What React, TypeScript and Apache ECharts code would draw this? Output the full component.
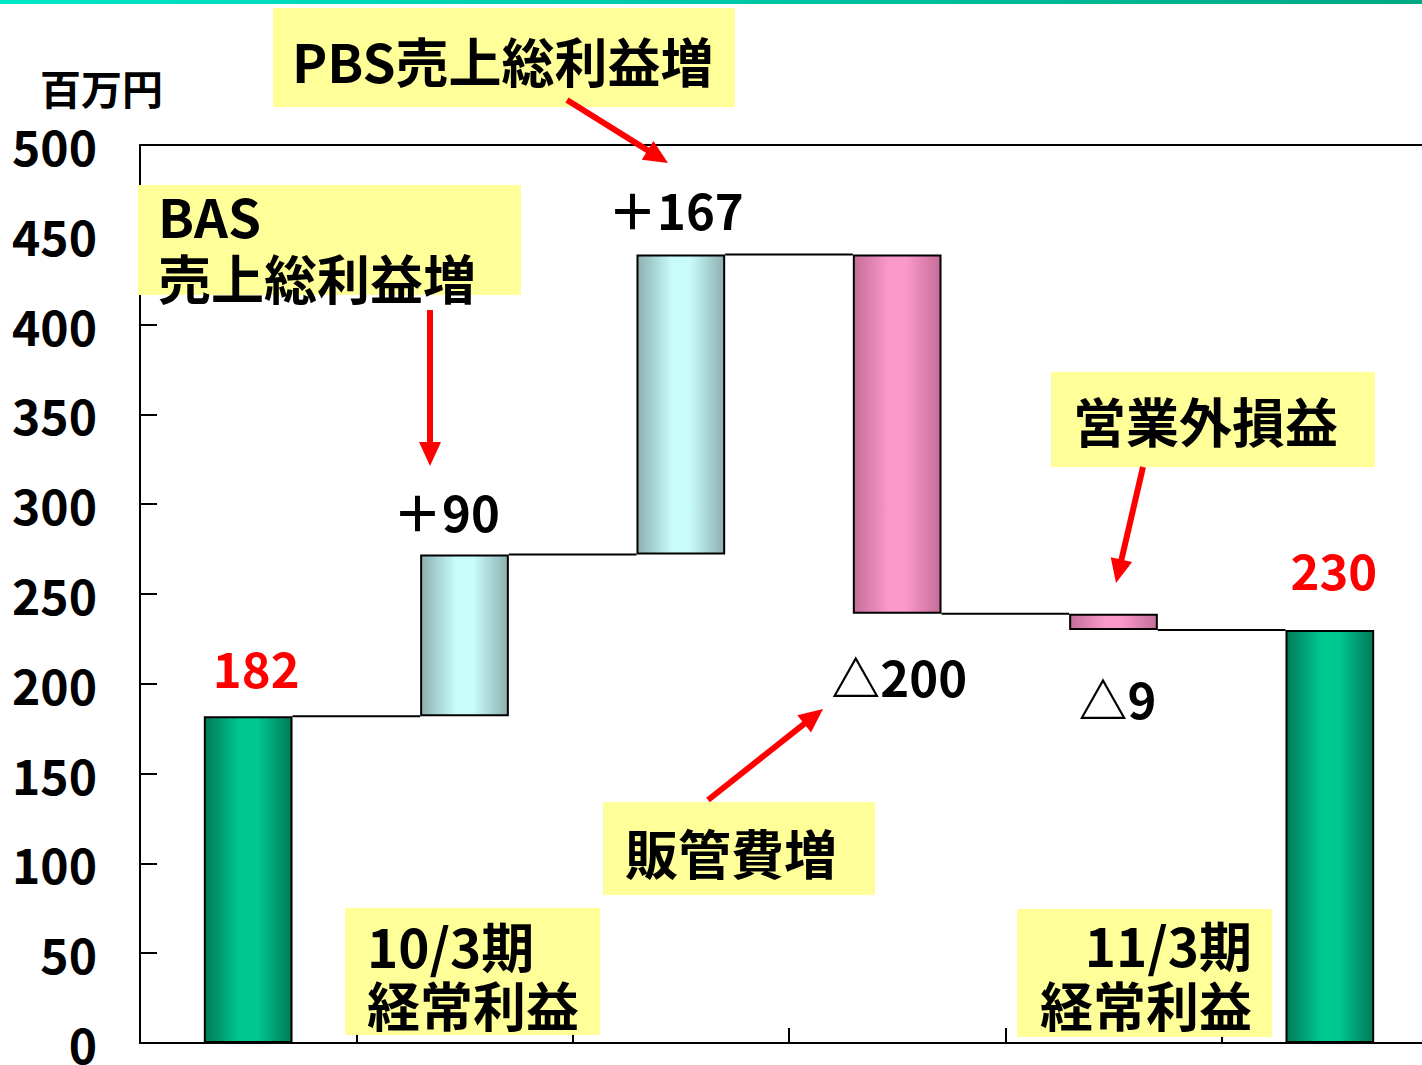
import React, { useEffect, useRef } from "react";
import * as echarts from "echarts";

const categories = ["10/3期経常利益", "BAS売上総利益増", "PBS売上総利益増", "販管費増", "営業外損益", "11/3期経常利益"];
const startValue = 182;
const deltas = [90, 167, -200, -9];
const endValue = 230;
const yTicks = { min: 0, max: 500, interval: 50 };
const unitLabel = "百万円";

// label placement (style only)
const labelDist = [25, 19, 22, 37, 43, 37];
const labelDx = [8, -18, -5, 2, 4, 4];

const FONT = "'Noto Sans CJK JP', 'Noto Sans', sans-serif";

function buildSeries() {
  const n = categories.length;
  const base: (number | string)[] = new Array(n).fill("-");
  const totals: any[] = new Array(n).fill("-");
  const inc: any[] = new Array(n).fill("-");
  const dec: any[] = new Array(n).fill("-");
  const levels: number[] = [startValue];
  base[0] = 0;
  totals[0] = { value: startValue, label: { distance: labelDist[0], offset: [labelDx[0], 0] } };
  let cur = startValue;
  deltas.forEach((d, k) => {
    const i = k + 1;
    const next = cur + d;
    base[i] = Math.min(cur, next);
    if (d >= 0) inc[i] = { value: d, label: { distance: labelDist[i], offset: [labelDx[i], 0] } };
    else dec[i] = { value: -d, label: { distance: labelDist[i], offset: [labelDx[i], 0] } };
    cur = next;
    levels.push(cur);
  });
  base[n - 1] = 0;
  totals[n - 1] = { value: endValue, label: { distance: labelDist[n - 1], offset: [labelDx[n - 1], 0] } };
  return { base, totals, inc, dec, levels };
}

const hGrad = (edge: string, mid: string) =>
  new echarts.graphic.LinearGradient(0, 0, 1, 0, [
    { offset: 0, color: edge },
    { offset: 0.4, color: mid },
    { offset: 0.6, color: mid },
    { offset: 1, color: edge },
  ]);

function arrow(x1: number, y1: number, x2: number, y2: number) {
  const dx = x2 - x1, dy = y2 - y1;
  const len = Math.sqrt(dx * dx + dy * dy);
  const ux = dx / len, uy = dy / len;
  const headL = 24, headW = 11;
  const bx = x2 - ux * headL, by = y2 - uy * headL;
  const px = -uy, py = ux;
  return [
    { type: "line", shape: { x1, y1, x2: bx + ux * 2, y2: by + uy * 2 }, style: { stroke: "#ff0000", lineWidth: 6 }, z: 20 },
    {
      type: "polygon",
      shape: { points: [[x2, y2], [bx + px * headW, by + py * headW], [bx - px * headW, by - py * headW]] },
      style: { fill: "#ff0000" },
      z: 20,
    },
  ];
}

function box(x: number, y: number, w: number, h: number) {
  return { type: "rect", shape: { x, y, width: w, height: h }, style: { fill: "#ffff99" }, z: 10 };
}

function txt(text: string, x: number, y: number, align: string = "left", size = 53, lh = 53) {
  return {
    type: "text",
    x,
    y,
    style: {
      text,
      fill: "#000",
      font: `bold ${size}px ${FONT}`,
      lineHeight: lh,
      textAlign: align,
      textVerticalAlign: "middle",
    },
    z: 11,
  };
}

export default function App() {
  const ref = useRef<HTMLDivElement>(null);
  useEffect(() => {
    if (!ref.current) return;
    const chart = echarts.init(ref.current, null, { renderer: "svg" });
    const { base, totals, inc, dec, levels } = buildSeries();
    const barW = "41%";
    const labelCommon = { show: true, fontFamily: FONT, fontWeight: "bold", fontSize: 49 };
    const option: any = {
      animation: false,
      backgroundColor: "#fff",
      grid: { left: 140, top: 145, width: 1298, height: 898, containLabel: false, outerBoundsMode: "none" },
      xAxis: [
        {
          type: "category",
          data: categories,
          axisLine: { show: true, lineStyle: { color: "#000", width: 2 } },
          axisTick: { show: true, inside: true, length: 15, lineStyle: { color: "#000", width: 2 } },
          axisLabel: { show: false },
          splitLine: { show: false },
        },
        {
          type: "category",
          position: "top",
          data: categories,
          axisLine: { show: true, onZero: false, lineStyle: { color: "#000", width: 2 } },
          axisTick: { show: false },
          axisLabel: { show: false },
        },
      ],
      yAxis: {
        type: "value",
        min: yTicks.min,
        max: yTicks.max,
        interval: yTicks.interval,
        axisLine: { show: true, lineStyle: { color: "#000", width: 2 } },
        axisTick: { show: true, inside: true, length: 17, lineStyle: { color: "#000", width: 2 } },
        axisLabel: { color: "#000", fontFamily: FONT, fontWeight: "bold", fontSize: 48, margin: 43 },
        splitLine: { show: false },
      },
      series: [
        {
          type: "bar",
          stack: "w",
          barWidth: barW,
          data: base,
          itemStyle: { color: "transparent", borderWidth: 0 },
          emphasis: { disabled: true },
          silent: true,
        },
        {
          type: "bar",
          stack: "w",
          barWidth: barW,
          data: totals,
          itemStyle: { color: hGrad("#007a58", "#00c891"), borderColor: "#000", borderWidth: 2 },
          label: { ...labelCommon, position: "top", color: "#ff0000", formatter: "{c}" },
        },
        {
          type: "bar",
          stack: "w",
          barWidth: barW,
          data: inc,
          itemStyle: { color: hGrad("#8cb0b0", "#c8fcfb"), borderColor: "#000", borderWidth: 2 },
          label: { ...labelCommon, position: "top", color: "#000", formatter: "＋{c}" },
        },
        {
          type: "bar",
          stack: "w",
          barWidth: barW,
          data: dec,
          itemStyle: { color: hGrad("#c46e98", "#fb98ca"), borderColor: "#000", borderWidth: 2 },
          label: { ...labelCommon, position: "bottom", color: "#000", formatter: "△{c}" },
        },
        {
          type: "custom",
          data: levels.map((v, i) => [i, v]),
          z: 1,
          renderItem: (params: any, api: any) => {
            const i = api.value(0);
            const v = api.value(1);
            const p1 = api.coord([i, v]);
            const p2 = api.coord([i + 1, v]);
            const half = (api.size([1, 0])[0] * 0.41) / 2;
            return {
              type: "line",
              shape: { x1: p1[0] + half, y1: p1[1], x2: p2[0] - half, y2: p1[1] },
              style: { stroke: "#000", lineWidth: 2 },
            };
          },
        },
      ],
      graphic: [
        {
          type: "rect",
          shape: { x: 0, y: 0, width: 1422, height: 4 },
          style: {
            fill: new echarts.graphic.LinearGradient(0, 0, 1, 0, [
              { offset: 0, color: "#00e8c8" },
              { offset: 1, color: "#00a884" },
            ]),
          },
        },
        txt(unitLabel, 40, 87, "left", 41, 41),
        box(273, 8, 462, 99),
        txt("PBS売上総利益増", 292, 60),
        box(138, 185, 383, 110),
        txt("BAS\n売上総利益増", 158, 246, "left", 53, 62),
        box(1051, 372, 324, 95),
        txt("営業外損益", 1073, 420),
        box(603, 802, 272, 93),
        txt("販管費増", 625, 852),
        box(345, 908, 255, 127),
        txt("10/3期\n経常利益", 367, 974, "left", 53, 59),
        box(1017, 909, 255, 128),
        txt("11/3期\n経常利益", 1252, 974, "right", 53, 60),
        ...arrow(567, 100, 668, 163),
        ...arrow(430, 310, 430, 466),
        ...arrow(708, 800, 823, 709),
        ...arrow(1143, 467, 1116, 583),
      ],
    };
    chart.setOption(option);
    return () => chart.dispose();
  }, []);
  return <div ref={ref} style={{ position: "fixed", left: 0, top: 0, width: 1422, height: 1065 }} />;
}
